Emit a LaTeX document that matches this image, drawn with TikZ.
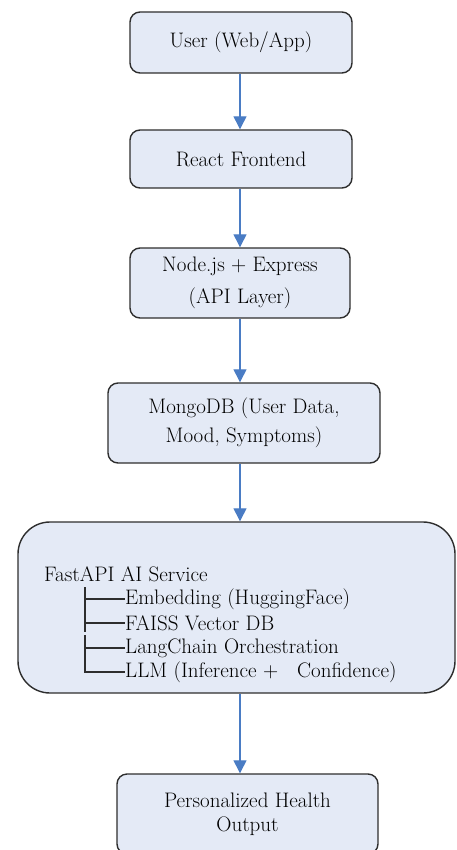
\documentclass[tikz,border=0pt]{standalone}
\usepackage{fontspec}
\setmainfont{Latin Modern Roman}
\usepackage{xcolor}
\usetikzlibrary{arrows.meta}
\definecolor{boxfill}{HTML}{E4EAF6}
\definecolor{boxline}{HTML}{2E2E2E}
\definecolor{flowblue}{HTML}{4A7CC4}
\tikzset{
    stepnode/.style = {align=center, inner sep=0pt, text centered, font=\fontsize{21}{29}\selectfont},
    box/.style = {stepnode, rectangle, rounded corners=10pt, draw=boxline, fill=boxfill, line width=1.4pt},
    bigbox/.style = {box, rounded corners=32pt},
    leaf/.style = {anchor=west, inner sep=0pt, font=\fontsize{21}{24}\selectfont},
    flow/.style = {draw=flowblue, line width=1.3pt, -{Triangle[width=13pt,length=13pt]}},
    branch/.style = {draw=boxline, line width=1.4pt}
}

\begin{document}
\begin{tikzpicture}[x=1pt, y=-1pt]
    \useasboundingbox (0,0) rectangle (457,850);

    \node [box, minimum width=222pt, minimum height=61pt] (user) at (241,42.5) {User (Web/App)};
    \node [box, minimum width=222pt, minimum height=58pt] (react) at (241,159) {React Frontend};
    \node [box, minimum width=220pt, minimum height=70pt, font=\fontsize{21}{32}\selectfont] (api) at (240,283) {Node.js + Express\\(API Layer)};
    \node [box, minimum width=272pt, minimum height=80pt] (mongo) at (244,423) {MongoDB (User Data,\\Mood, Symptoms)};
    \node [bigbox, minimum width=437pt, minimum height=171pt] (fastapi) at (236.5,607.5) {};
    \node [box, minimum width=261pt, minimum height=80pt, font=\fontsize{21}{24}\selectfont] (output) at (247.5,814) {Personalized Health\\Output};

    % tree inside the AI service
    \node [leaf] (svc) at (44,574) {FastAPI AI Service};
    \node [leaf] (emb) at (125,599) {Embedding (HuggingFace)};
    \node [leaf] (faiss) at (125,623) {FAISS Vector DB};
    \node [leaf] (chain) at (125,648) {LangChain Orchestration};
    \node [leaf] (llm) at (125,672) {LLM (Inference +\hspace{0.6em} Confidence)};
    \coordinate (trunk) at (85,587);
    \coordinate (trunkend) at (85,632);
    \coordinate (trunklow) at (85,635);

    \draw [branch] (trunk) -- (trunkend);
    \draw [branch] (trunklow) |- (llm.west);
    \foreach \n in {emb, faiss, chain}
        \draw [branch] (trunk |- \n.west) -- (\n.west);

    % arrows
    \draw [flow] (user.south -| 240,0) -- (react.north -| 240,0);
    \draw [flow] (react.south -| 240,0) -- (api.north -| 240,0);
    \draw [flow] (api.south -| 240,0) -- (mongo.north -| 240,0);
    \draw [flow] (mongo.south -| 240,0) -- (fastapi.north -| 240,0);
    \draw [flow] (fastapi.south -| 240,0) -- (output.north -| 240,0);
\end{tikzpicture}
\end{document}
